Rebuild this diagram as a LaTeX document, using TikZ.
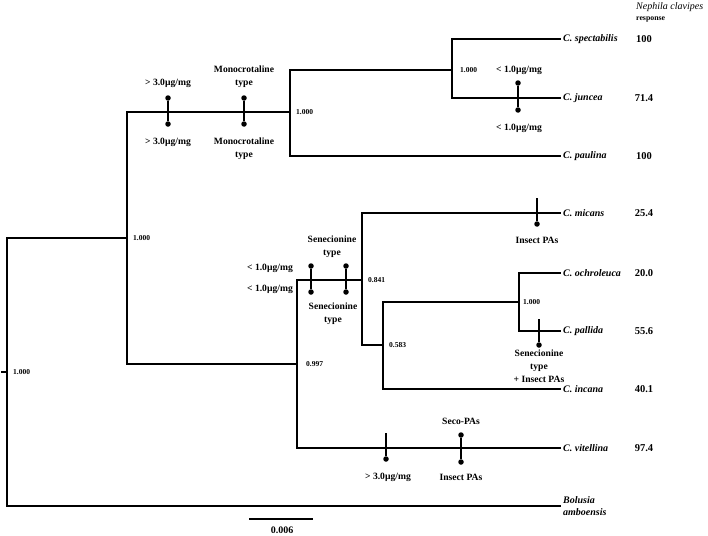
\documentclass[tikz,border=0pt]{standalone}
\usepackage{fontspec}
\setmainfont{Liberation Serif}
\usetikzlibrary{positioning}
\tikzset{
  tree/.style={line width=1.7pt},
  bar/.style={line width=1.5pt},
  dot/.style={circle, fill=black, inner sep=0pt, minimum size=5.5pt},
  lab/.style={font=\fontsize{9.6}{12.8}\selectfont\bfseries, align=center, inner sep=0pt},
  tip/.style={font=\fontsize{10}{12}\selectfont\bfseries\itshape, anchor=west, inner sep=2pt, align=left},
  resp/.style={font=\fontsize{10.5}{12}\selectfont\bfseries, inner sep=0pt},
  bs/.style={font=\fontsize{7.5}{8}\selectfont\bfseries, anchor=west, inner sep=0pt, xshift=6pt},
}

\begin{document}
\begin{tikzpicture}[x=1pt, y=-1pt]
  \useasboundingbox (0,0) rectangle (708,535);
  % internal nodes of the tree
  \coordinate (stub) at (1,372);
  \coordinate (root) at (7,372);
  \coordinate (nA) at (127,238);
  \coordinate (nB) at (290,112);
  \coordinate (nC) at (452,70);
  \coordinate (nD) at (297,364);
  \coordinate (nE) at (362,280);
  \coordinate (nF) at (383,345);
  \coordinate (nG) at (519,302);
  % tips
  \node[tip] (spec) at (561,39) {C. spectabilis};
  \node[tip] (junc) at (561,98) {C. juncea};
  \node[tip] (paul) at (561,156) {C. paulina};
  \node[tip] (mic) at (561,213) {C. micans};
  \node[tip] (och) at (561,273) {C. ochroleuca};
  \node[tip] (pal) at (561,331) {C. pallida};
  \node[tip] (inc) at (561,389) {C. incana};
  \node[tip] (vit) at (561,448) {C. vitellina};
  \node[tip] (bol) at (561,506) {Bolusia\\amboensis};
  % branches
  \draw[tree] (stub) -- (root);
  \draw[tree] (root) |- (nA);  \draw[tree] (root) |- (bol.west);
  \draw[tree] (nA) |- (nB);    \draw[tree] (nA) |- (nD);
  \draw[tree] (nB) |- (nC);    \draw[tree] (nB) |- (paul.west);
  \draw[tree] (nC) |- (spec.west); \draw[tree] (nC) |- (junc.west);
  \draw[tree] (nD) |- (nE);    \draw[tree] (nD) |- (vit.west);
  \draw[tree] (nE) |- (mic.west); \draw[tree] (nE) |- (nF);
  \draw[tree] (nF) |- (nG);    \draw[tree] (nF) |- (inc.west);
  \draw[tree] (nG) |- (och.west); \draw[tree] (nG) |- (pal.west);
  % support values
  \node[bs] (bsR) at (root) {1.000};
  \node[bs] (bsA) at (nA) {1.000};
  \node[bs] (bsB) at (nB) {1.000};
  \node[bs,xshift=2pt] (bsC) at (nC) {1.000};
  \node[bs,xshift=3pt] (bsD) at (nD) {0.997};
  \node[bs] (bsE) at (nE) {0.841};
  \node[bs] (bsF) at (nF) {0.583};
  \node[bs,xshift=-2pt] (bsG) at (nG) {1.000};
  % character changes
  \node[dot] (m1t) at (168,98) {};  \node[dot] (m1b) at (168,124) {};
  \draw[bar] (m1t) -- (m1b);
  \node[lab] (l1t) at (168,83) {> 3.0µg/mg};
  \node[lab] (l1b) at (168,142) {> 3.0µg/mg};
  \node[dot] (m2t) at (244,98) {};  \node[dot] (m2b) at (244,124) {};
  \draw[bar] (m2t) -- (m2b);
  \node[lab] (l2t) at (244,77) {Monocrotaline\\type};
  \node[lab] (l2b) at (244,148.5) {Monocrotaline\\type};
  \node[dot] (m3t) at (518,83) {};  \node[dot] (m3b) at (518,110) {};
  \draw[bar] (m3t) -- (m3b);
  \node[lab] (l3t) at (519,70) {< 1.0µg/mg};
  \node[lab] (l3b) at (519,128) {< 1.0µg/mg};
  \node[dot] (m4t) at (311,266) {}; \node[dot] (m4b) at (311,292) {};
  \draw[bar] (m4t) -- (m4b);
  \node[lab,anchor=east] (l4t) at (293,268) {< 1.0µg/mg};
  \node[lab,anchor=east] (l4b) at (293,289) {< 1.0µg/mg};
  \node[dot] (m5t) at (346,266) {}; \node[dot] (m5b) at (346,292) {};
  \draw[bar] (m5t) -- (m5b);
  \node[lab] (l5t) at (332,247) {Senecionine\\type};
  \node[lab] (l5b) at (333,313.5) {Senecionine\\type};
  \coordinate (m6t) at (537,198);   \node[dot] (m6b) at (537,224) {};
  \draw[bar] (m6t) -- (m6b);
  \node[lab] (l6b) at (537,240) {Insect PAs};
  \coordinate (m7t) at (539,319);   \node[dot] (m7b) at (539,345) {};
  \draw[bar] (m7t) -- (m7b);
  \node[lab] (l7b) at (539,366.5) {Senecionine\\type\\+ Insect PAs};
  \coordinate (m8t) at (386,433);   \node[dot] (m8b) at (386,459) {};
  \draw[bar] (m8t) -- (m8b);
  \node[lab] (l8b) at (388,477) {> 3.0µg/mg};
  \node[dot] (m9t) at (461,435) {}; \node[dot] (m9b) at (461,462) {};
  \draw[bar] (m9t) -- (m9b);
  \node[lab] (l9t) at (461,421) {Seco-PAs};
  \node[lab] (l9b) at (461,477) {Insect PAs};
  % response column
  \node[anchor=west, inner sep=0pt, font=\fontsize{10}{12}\selectfont\itshape] (hdr) at (636,7) {Nephila clavipes};
  \node[anchor=west, inner sep=0pt, font=\fontsize{7.8}{9}\selectfont\bfseries] (hdr2) at (636,19) {response};
  \node[resp] (r1) at (644,39) {100};
  \node[resp] (r2) at (644,98) {71.4};
  \node[resp] (r3) at (644,156) {100};
  \node[resp] (r4) at (644,213) {25.4};
  \node[resp] (r5) at (644,273) {20.0};
  \node[resp] (r6) at (644,331) {55.6};
  \node[resp] (r7) at (644,389) {40.1};
  \node[resp] (r8) at (644,448) {97.4};
  % scale bar
  \coordinate (sbl) at (249,519);
  \coordinate (sbr) at (313,519);
  \draw[line width=1.1pt] (sbl) -- (sbr);
  \node[lab, font=\fontsize{10}{12}\selectfont\bfseries] (sbt) at (282,530) {0.006};
\end{tikzpicture}
\end{document}
